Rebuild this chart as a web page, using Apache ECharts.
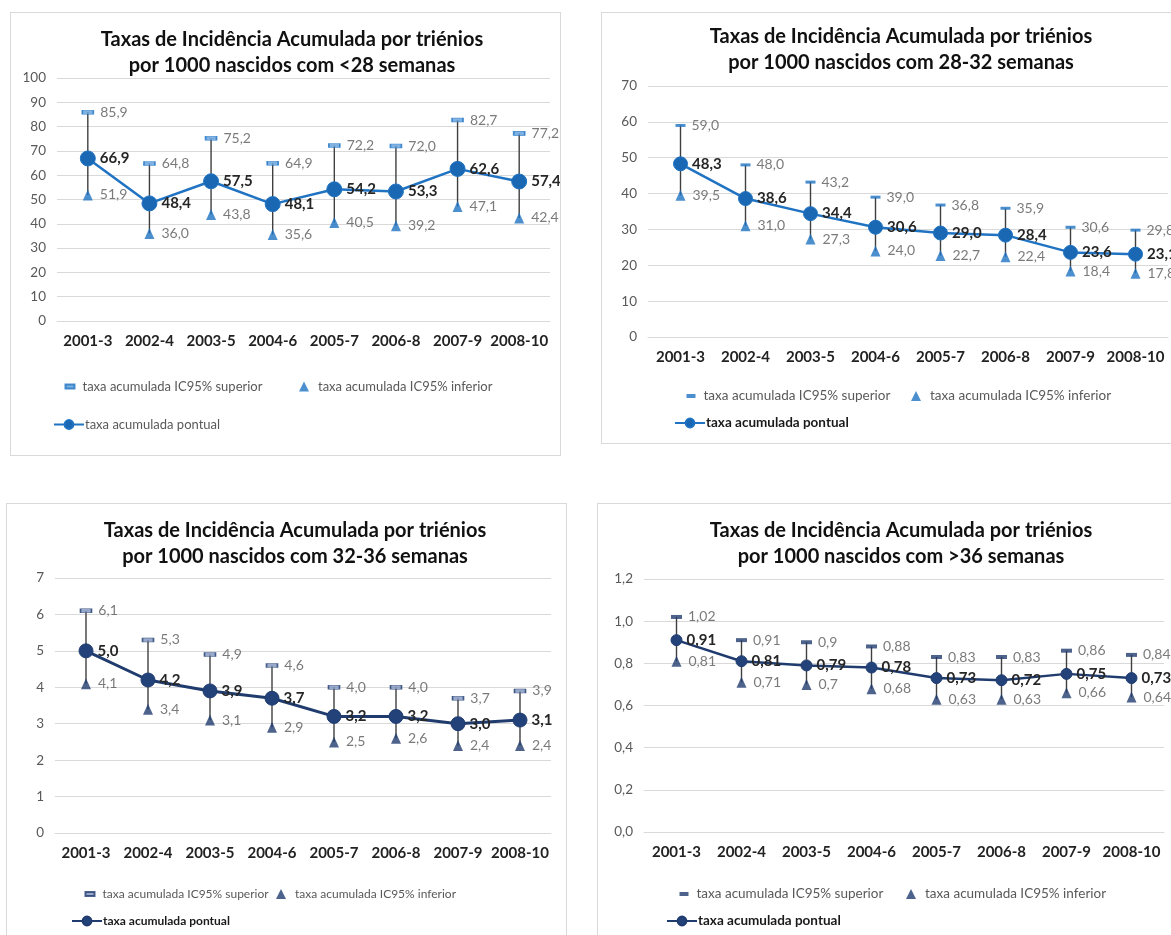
<!DOCTYPE html>
<html>
<head>
<meta charset="utf-8">
<script src="https://cdn.jsdelivr.net/npm/echarts@6/dist/echarts.min.js"></script>
<style>
html,body{margin:0;padding:0;width:1171px;height:935px;overflow:hidden;background:#fff;}
.panel{position:absolute;border:1px solid #d9d9d9;background:#fff;box-sizing:border-box;}
</style>
</head>
<body>
<div id="p1" class="panel" style="left:10px;top:12px;width:551px;height:444px;"></div>
<div id="p2" class="panel" style="left:601px;top:12px;width:600px;height:432px;"></div>
<div id="p3" class="panel" style="left:6px;top:503px;width:561px;height:460px;"></div>
<div id="p4" class="panel" style="left:597px;top:503px;width:600px;height:460px;"></div>
<script>
// ---- data ----
const categorias = ['2001-3','2002-4','2003-5','2004-6','2005-7','2006-8','2007-9','2008-10'];

const titulo1 = 'Taxas de Incidência Acumulada por triénios\npor 1000 nascidos com <28 semanas';
const p1Superior = [85.9, 64.8, 75.2, 64.9, 72.2, 72.0, 82.7, 77.2];
const p1Pontual  = [66.9, 48.4, 57.5, 48.1, 54.2, 53.3, 62.6, 57.4];
const p1Inferior = [51.9, 36.0, 43.8, 35.6, 40.5, 39.2, 47.1, 42.4];
const p1Eixo = [0, 100, 10];

const titulo2 = 'Taxas de Incidência Acumulada por triénios\npor 1000 nascidos com 28-32 semanas';
const p2Superior = [59.0, 48.0, 43.2, 39.0, 36.8, 35.9, 30.6, 29.8];
const p2Pontual  = [48.3, 38.6, 34.4, 30.6, 29.0, 28.4, 23.6, 23.1];
const p2Inferior = [39.5, 31.0, 27.3, 24.0, 22.7, 22.4, 18.4, 17.8];
const p2Eixo = [0, 70, 10];

const titulo3 = 'Taxas de Incidência Acumulada por triénios\npor 1000 nascidos com 32-36 semanas';
const p3Superior = [6.1, 5.3, 4.9, 4.6, 4.0, 4.0, 3.7, 3.9];
const p3Pontual  = [5.0, 4.2, 3.9, 3.7, 3.2, 3.2, 3.0, 3.1];
const p3Inferior = [4.1, 3.4, 3.1, 2.9, 2.5, 2.6, 2.4, 2.4];
const p3Eixo = [0, 7, 1];

const titulo4 = 'Taxas de Incidência Acumulada por triénios\npor 1000 nascidos com >36 semanas';
const p4Superior = [1.02, 0.91, 0.9, 0.88, 0.83, 0.83, 0.86, 0.84];
const p4Pontual  = [0.91, 0.81, 0.79, 0.78, 0.73, 0.72, 0.75, 0.73];
const p4Inferior = [0.81, 0.71, 0.7, 0.68, 0.63, 0.63, 0.66, 0.64];
const p4Eixo = [0, 1.2, 0.2];

const nomeSup = 'taxa acumulada IC95% superior';
const nomeInf = 'taxa acumulada IC95% inferior';
const nomePont = 'taxa acumulada pontual';

// ---- builder ----
const FONT = 'Lato, "Open Sans", sans-serif';
function comma(v, dec){ return (dec == null ? String(v) : v.toFixed(dec)).replace('.', ','); }

function build(cfg){
  const sup = cfg.sup, pont = cfg.pont, inf = cfg.inf;
  const bars = categorias.map((c, i) => [i, inf[i], sup[i]]);
  const lab = (p) => comma(p.value, cfg.dec);
  const legFs = cfg.legFs;
  return {
    animation: false,
    textStyle: {fontFamily: FONT},
    title: {
      text: cfg.title, left: cfg.titleX, top: cfg.titleTop, textAlign: 'center',
      textStyle: {fontFamily: FONT, fontWeight: 'bold', fontSize: 20, lineHeight: 26, color: '#111'}
    },
    grid: {left: cfg.grid[0], top: cfg.grid[1], width: cfg.grid[2], height: cfg.grid[3], containLabel: false},
    xAxis: {
      type: 'category', data: categorias,
      axisTick: {show: false},
      axisLine: {lineStyle: {color: '#d9d9d9', width: 1}},
      axisLabel: {interval: 0, fontFamily: FONT, fontWeight: 'bold', fontSize: 15, color: '#222', margin: 13}
    },
    yAxis: {
      type: 'value', min: cfg.axis[0], max: cfg.axis[1], interval: cfg.axis[2],
      axisLine: {show: false}, axisTick: {show: false},
      splitLine: {lineStyle: {color: '#d9d9d9', width: 1}},
      axisLabel: {fontFamily: FONT, fontSize: 13.5, color: '#595959', margin: 11,
        formatter: (v) => cfg.yDec == null ? String(Math.round(v)) : comma(v, cfg.yDec)}
    },
    legend: [
      {data: [nomeSup], left: cfg.leg1[0], top: cfg.leg1[1], icon: 'rect', itemWidth: 9, itemHeight: 4,
       textStyle: {fontFamily: FONT, fontSize: legFs, color: '#595959', padding: [0,0,0,3]}, selectedMode: false},
      {data: [nomeInf], left: cfg.leg2[0], top: cfg.leg2[1], icon: 'triangle', itemWidth: 10, itemHeight: 10,
       textStyle: {fontFamily: FONT, fontSize: legFs, color: '#595959', padding: [0,0,0,4]}, selectedMode: false},
      {data: [nomePont], left: cfg.leg3[0], top: cfg.leg3[1], itemWidth: 30, itemHeight: 11,
       textStyle: {fontFamily: FONT, fontSize: legFs, color: cfg.boldLeg ? '#1a1a1a' : '#595959',
         fontWeight: cfg.boldLeg ? 'bold' : 'normal', padding: [0,0,0,-4]}, selectedMode: false}
    ],
    series: [
      {
        type: 'custom', name: 'erro', z: 1, silent: true,
        data: bars,
        renderItem: function(params, api){
          const a = api.coord([api.value(0), api.value(1)]);
          const b = api.coord([api.value(0), api.value(2)]);
          return {type: 'line', shape: {x1: a[0], y1: a[1], x2: b[0], y2: b[1]},
            style: {stroke: '#3f3f3f', lineWidth: 1.4}};
        }
      },
      {
        type: 'scatter', name: nomeSup, data: sup, z: 3,
        symbol: 'rect', symbolSize: cfg.dash,
        itemStyle: {color: cfg.dashFill, borderColor: cfg.color, borderWidth: cfg.dashBorder},
        label: {show: true, position: 'right', distance: 6, formatter: lab,
          fontFamily: FONT, fontSize: 14, color: '#595959'}
      },
      {
        type: 'scatter', name: nomeInf, data: inf, z: 3,
        symbol: 'triangle', symbolSize: [10, 11],
        itemStyle: {color: cfg.color},
        label: {show: true, position: 'right', distance: 7, formatter: lab,
          fontFamily: FONT, fontSize: 14, color: '#595959'}
      },
      {
        type: 'line', name: nomePont, data: pont, z: 4,
        symbol: 'circle', symbolSize: cfg.dot,
        lineStyle: {color: cfg.color, width: cfg.lineW},
        itemStyle: {color: cfg.dotColor, borderColor: cfg.color, borderWidth: 1},
        label: {show: true, position: 'right', distance: 4, formatter: lab,
          fontFamily: FONT, fontWeight: 'bold', fontSize: 15, color: '#262626'}
      }
    ]
  };
}

const BLUE = '#1f73c2', NAVY = '#203c6e';
const cfgs = [
  {id: 'p1', title: titulo1, sup: p1Superior, pont: p1Pontual, inf: p1Inferior, axis: p1Eixo, dec: 1,
   titleX: 276, titleTop: 9, grid: [46, 65, 493, 243], color: BLUE, dotColor: '#1a68b4', dot: 15, lineW: 2.5,
   dash: [11, 4], dashFill: '#5f9fdc', dashBorder: 1, legFs: 13,
   leg1: [48.5, 362], leg2: [283, 362], leg3: [37, 400], boldLeg: false},
  {id: 'p2', title: titulo2, sup: p2Superior, pont: p2Pontual, inf: p2Inferior, axis: p2Eixo, dec: 1,
   titleX: 294, titleTop: 6, grid: [46, 73, 520, 251], color: BLUE, dotColor: '#1a68b4', dot: 14, lineW: 2.5,
   dash: [10, 3], dashFill: BLUE, dashBorder: 0, legFs: 13.5,
   leg1: [79.5, 371], leg2: [304, 371], leg3: [67, 398], boldLeg: true},
  {id: 'p3', title: titulo3, sup: p3Superior, pont: p3Pontual, inf: p3Inferior, axis: p3Eixo, dec: 1,
   titleX: 283, titleTop: 8.5, grid: [48, 74, 496, 255], color: NAVY, dotColor: '#23427a', dot: 14, lineW: 3,
   dash: [11, 4], dashFill: '#7f95c0', dashBorder: 1, legFs: 12,
   leg1: [72.5, 379], leg2: [264, 379], leg3: [59, 406], boldLeg: true},
  {id: 'p4', title: titulo4, sup: p4Superior, pont: p4Pontual, inf: p4Inferior, axis: p4Eixo, dec: null, yDec: 1,
   titleX: 298, titleTop: 8.5, grid: [46, 75, 520, 253], color: NAVY, dotColor: '#23427a', dot: 11, lineW: 2.5,
   dash: [11, 4], dashFill: NAVY, dashBorder: 0, legFs: 13.5,
   leg1: [76.5, 378], leg2: [303, 378], leg3: [63, 405], boldLeg: true}
];
cfgs.forEach(c => {
  const chart = echarts.init(document.getElementById(c.id), null, {renderer: 'canvas'});
  chart.setOption(build(c));
});
</script>
</body>
</html>
